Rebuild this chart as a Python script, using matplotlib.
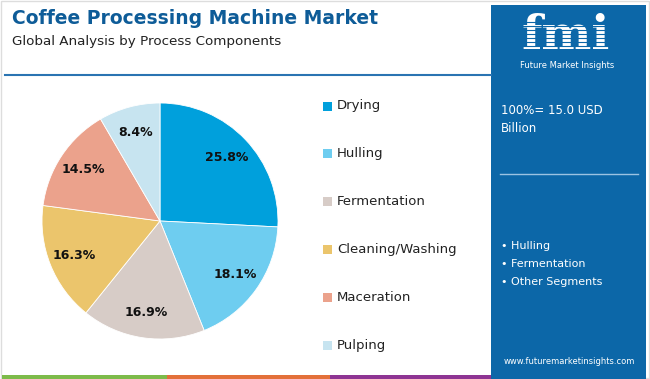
import matplotlib.pyplot as plt
from matplotlib.patches import Rectangle

# data
labels = ['Drying', 'Hulling', 'Fermentation', 'Cleaning/Washing', 'Maceration', 'Pulping']
shares = [25.8, 18.1, 16.9, 16.3, 14.5, 8.4]
colors = ['#00A0DC', '#6ECDF0', '#D7CCC7', '#EBC56C', '#EBA28C', '#C7E4F0']
bullets = ['Hulling', 'Fermentation', 'Other Segments']

W, H = 650, 379
fig = plt.figure(figsize=(W / 100, H / 100), dpi=100)
plt.rcParams['font.family'] = ['DejaVu Sans']


def fx(x):
    return x / W


def fy(y):
    return 1 - y / H


# frame
fig.patches.append(Rectangle((fx(1), fy(378)), fx(648), 377 / H, transform=fig.transFigure,
                             fill=False, edgecolor='#DDDDDD', lw=1))

# header
fig.text(fx(12), fy(18), 'Coffee Processing Machine Market', fontsize=13.5, fontweight='bold',
         color='#0E5C98', va='center')
fig.text(fx(12), fy(41), 'Global Analysis by Process Components', fontsize=9.7,
         color='#222222', va='center')
fig.lines.append(plt.Line2D([fx(5), fx(491)], [fy(75), fy(75)], transform=fig.transFigure,
                            color='#2A74B2', lw=1.5))

# bottom strip
for x0, x1, c in [(2, 167, '#7DBB4A'), (167, 330, '#E3703A'), (330, 492, '#8E3493')]:
    fig.patches.append(Rectangle((fx(x0), 0), fx(x1 - x0), 4 / H, transform=fig.transFigure,
                                 color=c, lw=0))

# right panel
fig.patches.append(Rectangle((fx(491), 0), fx(155), fy(5), transform=fig.transFigure,
                             color='#0C67A8', lw=0))
fig.text(fx(566), fy(36), 'fmi', fontsize=34, fontweight='bold', family='DejaVu Serif',
         color='white', ha='center', va='center')
for yy in range(22, 56, 4):
    fig.lines.append(plt.Line2D([fx(512), fx(622)], [fy(yy), fy(yy)], transform=fig.transFigure,
                                color='#0C67A8', lw=0.8, zorder=4))
fig.text(fx(567), fy(66), 'Future Market Insights', fontsize=6, color='white',
         ha='center', va='center')
fig.text(fx(501), fy(110), '100%= 15.0 USD', fontsize=8.5, color='white', va='center')
fig.text(fx(501), fy(129), 'Billion', fontsize=8.5, color='white', va='center')
fig.lines.append(plt.Line2D([fx(500), fx(638)], [fy(174), fy(174)], transform=fig.transFigure,
                            color='#9CC3E2', lw=1))
for i, b in enumerate(bullets):
    fig.text(fx(501), fy(246 + i * 18), '\u2022 ' + b, fontsize=8, color='white', va='center')
fig.text(fx(569), fy(362), 'www.futuremarketinsights.com', fontsize=6, color='white',
         ha='center', va='center')

# pie
cx, cy, r = 160, 221, 118
ax = fig.add_axes([fx(cx - r), fy(cy + r), 2 * r / W, 2 * r / H])
wedges, texts, autotexts = ax.pie(shares, colors=colors, startangle=90, counterclock=False,
                                  autopct=lambda p: '%.1f%%' % p, pctdistance=0.78,
                                  wedgeprops=dict(edgecolor='white', linewidth=0.6),
                                  textprops=dict(fontsize=9, fontweight='bold', color='#111111'))
for t, v in zip(autotexts, shares):
    t.set_text('%.1f%%' % v)
ax.set_xlim(-1, 1)
ax.set_ylim(-1, 1)

# legend
for i, (lab, c) in enumerate(zip(labels, colors)):
    y = 106 + i * 47.8
    fig.patches.append(Rectangle((fx(323), fy(y + 4.5)), fx(9), 9 / H, transform=fig.transFigure,
                                 color=c, lw=0))
    fig.text(fx(337), fy(y), lab, fontsize=9.5, color='#222222', va='center')

fig.savefig('out.png', dpi=100)
